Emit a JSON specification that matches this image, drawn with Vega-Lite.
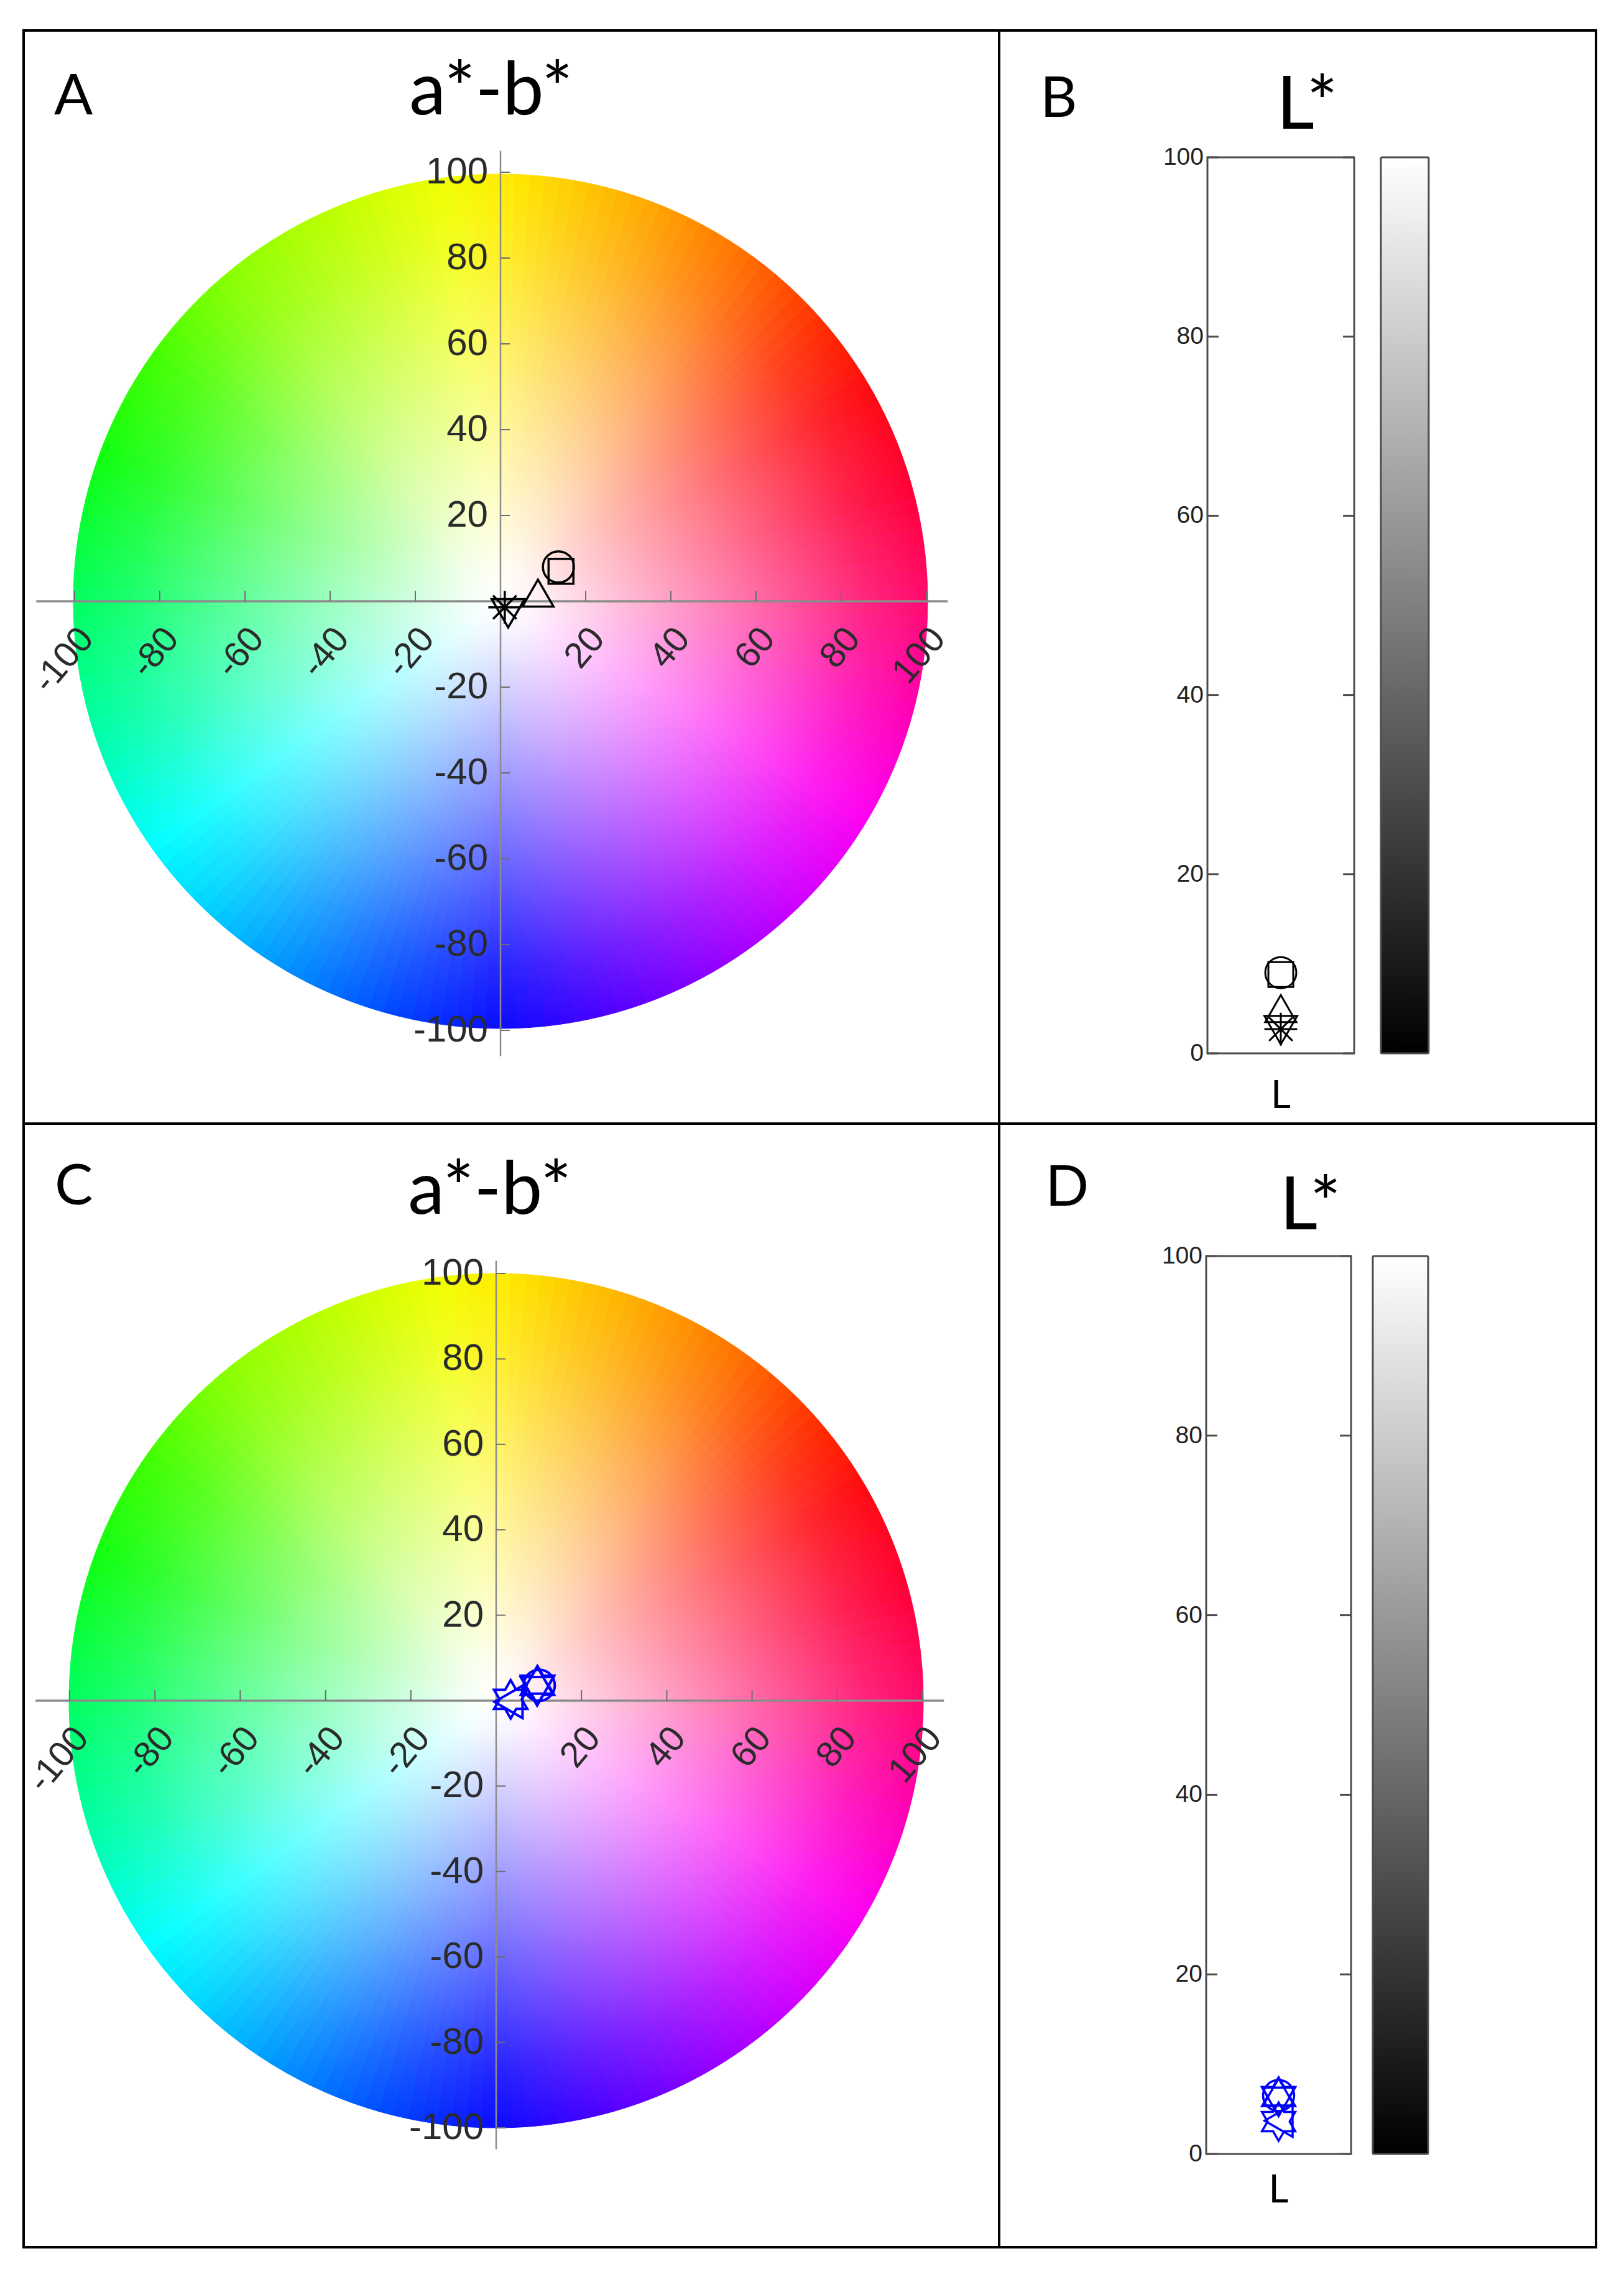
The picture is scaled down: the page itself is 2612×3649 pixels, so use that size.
{
  "$schema": "https://vega.github.io/schema/vega-lite/v6.json",
  "padding": {"left": 33, "top": 47, "right": 10, "bottom": 10},
  "background": "white",
  "config": {
    "view": {"stroke": "#000000", "strokeWidth": 4}
  },
  "datasets": {
    "one": [{"k": 1}],
    "ticks": [{"t": 0}, {"t": 20}, {"t": 40}, {"t": 60}, {"t": 80}, {"t": 100}],
    "abt": [{"v": -100}, {"v": -80}, {"v": -60}, {"v": -40}, {"v": -20}, {"v": 20}, {"v": 40}, {"v": 60}, {"v": 80}, {"v": 100}],
    "black": [
      {"m": "o", "a": 13.6, "b": 8.0, "L": 9.0},
      {"m": "s", "a": 14.2, "b": 7.0, "L": 8.8},
      {"m": "^", "a": 8.8, "b": 1.9, "L": 5.0},
      {"m": "v", "a": 1.8, "b": -2.8, "L": 2.6},
      {"m": "*", "a": 1.0, "b": -1.4, "L": 2.7}
    ],
    "blue": [
      {"m": "o", "a": 10.1, "b": 3.6, "L": 6.5},
      {"m": "h", "a": 9.7, "b": 3.6, "L": 6.4},
      {"m": "^", "a": 9.6, "b": 4.8, "L": 6.9},
      {"m": "v", "a": 9.6, "b": 2.2, "L": 5.8},
      {"m": "<", "a": 2.9, "b": -0.3, "L": 3.7},
      {"m": "h", "a": 3.4, "b": 0.3, "L": 3.6}
    ],
    "wheel": [
      {"deg": 1, "n": 1}, {"deg": 3, "n": 1}, {"deg": 5, "n": 1}, {"deg": 7, "n": 1}, {"deg": 9, "n": 1}, {"deg": 11, "n": 1}, {"deg": 13, "n": 1}, {"deg": 15, "n": 1}, {"deg": 17, "n": 1}, {"deg": 19, "n": 1},
      {"deg": 21, "n": 1}, {"deg": 23, "n": 1}, {"deg": 25, "n": 1}, {"deg": 27, "n": 1}, {"deg": 29, "n": 1}, {"deg": 31, "n": 1}, {"deg": 33, "n": 1}, {"deg": 35, "n": 1}, {"deg": 37, "n": 1}, {"deg": 39, "n": 1},
      {"deg": 41, "n": 1}, {"deg": 43, "n": 1}, {"deg": 45, "n": 1}, {"deg": 47, "n": 1}, {"deg": 49, "n": 1}, {"deg": 51, "n": 1}, {"deg": 53, "n": 1}, {"deg": 55, "n": 1}, {"deg": 57, "n": 1}, {"deg": 59, "n": 1},
      {"deg": 61, "n": 1}, {"deg": 63, "n": 1}, {"deg": 65, "n": 1}, {"deg": 67, "n": 1}, {"deg": 69, "n": 1}, {"deg": 71, "n": 1}, {"deg": 73, "n": 1}, {"deg": 75, "n": 1}, {"deg": 77, "n": 1}, {"deg": 79, "n": 1},
      {"deg": 81, "n": 1}, {"deg": 83, "n": 1}, {"deg": 85, "n": 1}, {"deg": 87, "n": 1}, {"deg": 89, "n": 1}, {"deg": 91, "n": 1}, {"deg": 93, "n": 1}, {"deg": 95, "n": 1}, {"deg": 97, "n": 1}, {"deg": 99, "n": 1},
      {"deg": 101, "n": 1}, {"deg": 103, "n": 1}, {"deg": 105, "n": 1}, {"deg": 107, "n": 1}, {"deg": 109, "n": 1}, {"deg": 111, "n": 1}, {"deg": 113, "n": 1}, {"deg": 115, "n": 1}, {"deg": 117, "n": 1}, {"deg": 119, "n": 1},
      {"deg": 121, "n": 1}, {"deg": 123, "n": 1}, {"deg": 125, "n": 1}, {"deg": 127, "n": 1}, {"deg": 129, "n": 1}, {"deg": 131, "n": 1}, {"deg": 133, "n": 1}, {"deg": 135, "n": 1}, {"deg": 137, "n": 1}, {"deg": 139, "n": 1},
      {"deg": 141, "n": 1}, {"deg": 143, "n": 1}, {"deg": 145, "n": 1}, {"deg": 147, "n": 1}, {"deg": 149, "n": 1}, {"deg": 151, "n": 1}, {"deg": 153, "n": 1}, {"deg": 155, "n": 1}, {"deg": 157, "n": 1}, {"deg": 159, "n": 1},
      {"deg": 161, "n": 1}, {"deg": 163, "n": 1}, {"deg": 165, "n": 1}, {"deg": 167, "n": 1}, {"deg": 169, "n": 1}, {"deg": 171, "n": 1}, {"deg": 173, "n": 1}, {"deg": 175, "n": 1}, {"deg": 177, "n": 1}, {"deg": 179, "n": 1},
      {"deg": 181, "n": 1}, {"deg": 183, "n": 1}, {"deg": 185, "n": 1}, {"deg": 187, "n": 1}, {"deg": 189, "n": 1}, {"deg": 191, "n": 1}, {"deg": 193, "n": 1}, {"deg": 195, "n": 1}, {"deg": 197, "n": 1}, {"deg": 199, "n": 1},
      {"deg": 201, "n": 1}, {"deg": 203, "n": 1}, {"deg": 205, "n": 1}, {"deg": 207, "n": 1}, {"deg": 209, "n": 1}, {"deg": 211, "n": 1}, {"deg": 213, "n": 1}, {"deg": 215, "n": 1}, {"deg": 217, "n": 1}, {"deg": 219, "n": 1},
      {"deg": 221, "n": 1}, {"deg": 223, "n": 1}, {"deg": 225, "n": 1}, {"deg": 227, "n": 1}, {"deg": 229, "n": 1}, {"deg": 231, "n": 1}, {"deg": 233, "n": 1}, {"deg": 235, "n": 1}, {"deg": 237, "n": 1}, {"deg": 239, "n": 1},
      {"deg": 241, "n": 1}, {"deg": 243, "n": 1}, {"deg": 245, "n": 1}, {"deg": 247, "n": 1}, {"deg": 249, "n": 1}, {"deg": 251, "n": 1}, {"deg": 253, "n": 1}, {"deg": 255, "n": 1}, {"deg": 257, "n": 1}, {"deg": 259, "n": 1},
      {"deg": 261, "n": 1}, {"deg": 263, "n": 1}, {"deg": 265, "n": 1}, {"deg": 267, "n": 1}, {"deg": 269, "n": 1}, {"deg": 271, "n": 1}, {"deg": 273, "n": 1}, {"deg": 275, "n": 1}, {"deg": 277, "n": 1}, {"deg": 279, "n": 1},
      {"deg": 281, "n": 1}, {"deg": 283, "n": 1}, {"deg": 285, "n": 1}, {"deg": 287, "n": 1}, {"deg": 289, "n": 1}, {"deg": 291, "n": 1}, {"deg": 293, "n": 1}, {"deg": 295, "n": 1}, {"deg": 297, "n": 1}, {"deg": 299, "n": 1},
      {"deg": 301, "n": 1}, {"deg": 303, "n": 1}, {"deg": 305, "n": 1}, {"deg": 307, "n": 1}, {"deg": 309, "n": 1}, {"deg": 311, "n": 1}, {"deg": 313, "n": 1}, {"deg": 315, "n": 1}, {"deg": 317, "n": 1}, {"deg": 319, "n": 1},
      {"deg": 321, "n": 1}, {"deg": 323, "n": 1}, {"deg": 325, "n": 1}, {"deg": 327, "n": 1}, {"deg": 329, "n": 1}, {"deg": 331, "n": 1}, {"deg": 333, "n": 1}, {"deg": 335, "n": 1}, {"deg": 337, "n": 1}, {"deg": 339, "n": 1},
      {"deg": 341, "n": 1}, {"deg": 343, "n": 1}, {"deg": 345, "n": 1}, {"deg": 347, "n": 1}, {"deg": 349, "n": 1}, {"deg": 351, "n": 1}, {"deg": 353, "n": 1}, {"deg": 355, "n": 1}, {"deg": 357, "n": 1}, {"deg": 359, "n": 1}
    ]
  },
  "columns": 2,
  "spacing": 0,
  "align": "each",
  "bounds": "flush",
  "concat": [
    {
      "width": 1569,
      "height": 1758,
      "layer": [
        {
          "data": {"name": "wheel"},
          "mark": {"type": "arc", "radius": 687, "strokeWidth": 1},
          "encoding": {
            "x": {"datum": 0, "type": "quantitative", "scale": {"domain": [-111.97, 117.08], "nice": false, "zero": false}, "axis": null},
            "y": {"datum": 0, "type": "quantitative", "scale": {"domain": [-121.74, 133.04], "nice": false, "zero": false}, "axis": null},
            "theta": {"field": "n", "type": "quantitative", "stack": true},
            "order": {"field": "deg", "type": "quantitative", "sort": "ascending"},
            "color": {"field": "deg", "type": "quantitative", "legend": null,
              "scale": {"type": "linear", "interpolate": "rgb",
                "domain": [0, 8, 20, 35, 50, 60, 75, 90, 105, 120, 135, 150, 165, 180, 195, 210, 225, 235, 250, 270, 290, 305, 320, 340, 352, 360],
                "range": ["#ffee00", "#ffd200", "#ffaa00", "#ff7000", "#ff2a00", "#ff0a10", "#ff0038", "#ff0a6e", "#ff00b4", "#ff00f0", "#d000ff", "#9000ff", "#5000ff", "#0a0aff", "#0048ff", "#0090ff", "#00d8ff", "#00ffff", "#00ffb0", "#00ff60", "#10ff10", "#40ff00", "#88ff00", "#c8ff00", "#f0ff00", "#ffee00"]}},
            "stroke": {"field": "deg", "type": "quantitative", "legend": null,
              "scale": {"type": "linear", "interpolate": "rgb",
                "domain": [0, 8, 20, 35, 50, 60, 75, 90, 105, 120, 135, 150, 165, 180, 195, 210, 225, 235, 250, 270, 290, 305, 320, 340, 352, 360],
                "range": ["#ffee00", "#ffd200", "#ffaa00", "#ff7000", "#ff2a00", "#ff0a10", "#ff0038", "#ff0a6e", "#ff00b4", "#ff00f0", "#d000ff", "#9000ff", "#5000ff", "#0a0aff", "#0048ff", "#0090ff", "#00d8ff", "#00ffff", "#00ffb0", "#00ff60", "#10ff10", "#40ff00", "#88ff00", "#c8ff00", "#f0ff00", "#ffee00"]}}
          }
        },
        {
          "data": {"name": "one"},
          "mark": {"type": "point", "shape": "circle", "filled": true, "opacity": 1, "size": 1887876, "strokeWidth": 0,
            "fill": {"gradient": "radial", "x1": 0.5, "y1": 0.5, "r1": 0, "x2": 0.5, "y2": 0.5, "r2": 0.5,
              "stops": [{"offset": 0, "color": "rgba(255,255,255,1)"}, {"offset": 0.08, "color": "rgba(255,255,255,0.95)"}, {"offset": 0.5, "color": "rgba(255,255,255,0.5)"}, {"offset": 0.85, "color": "rgba(255,255,255,0.12)"}, {"offset": 1, "color": "rgba(255,255,255,0)"}]}},
          "encoding": {
            "x": {"datum": 0, "type": "quantitative", "scale": {"domain": [-111.97, 117.08], "nice": false, "zero": false}, "axis": null},
            "y": {"datum": 0, "type": "quantitative", "scale": {"domain": [-121.74, 133.04], "nice": false, "zero": false}, "axis": null}
          }
        },
        {
          "data": {"name": "one"},
          "mark": {"type": "rule", "color": "#8c8c8c", "strokeWidth": 3.5},
          "encoding": {
            "x": {"datum": -109, "type": "quantitative", "scale": {"domain": [-111.97, 117.08], "nice": false, "zero": false}, "axis": null},
            "x2": {"datum": 105},
            "y": {"datum": 0, "type": "quantitative", "scale": {"domain": [-121.74, 133.04], "nice": false, "zero": false}, "axis": null}
          }
        },
        {
          "data": {"name": "one"},
          "mark": {"type": "rule", "color": "#8c8c8c", "strokeWidth": 2.5},
          "encoding": {
            "x": {"datum": 0, "type": "quantitative", "scale": {"domain": [-111.97, 117.08], "nice": false, "zero": false}, "axis": null},
            "y": {"datum": -106, "type": "quantitative", "scale": {"domain": [-121.74, 133.04], "nice": false, "zero": false}, "axis": null},
            "y2": {"datum": 105}
          }
        },
        {
          "data": {"name": "abt"},
          "mark": {"type": "rule", "color": "#6e6e6e", "strokeWidth": 2},
          "encoding": {
            "x": {"field": "v", "type": "quantitative", "scale": {"domain": [-111.97, 117.08], "nice": false, "zero": false}, "axis": null},
            "y": {"datum": 0, "type": "quantitative", "scale": {"domain": [-121.74, 133.04], "nice": false, "zero": false}, "axis": null},
            "y2": {"datum": 2.46}
          }
        },
        {
          "data": {"name": "abt"},
          "mark": {"type": "rule", "color": "#6e6e6e", "strokeWidth": 2},
          "encoding": {
            "x": {"datum": 0, "type": "quantitative", "scale": {"domain": [-111.97, 117.08], "nice": false, "zero": false}, "axis": null},
            "x2": {"datum": 2.2},
            "y": {"field": "v", "type": "quantitative", "scale": {"domain": [-121.74, 133.04], "nice": false, "zero": false}, "axis": null}
          }
        },
        {
          "data": {"name": "abt"},
          "mark": {"type": "text", "font": "Liberation Sans", "fontSize": 58, "color": "#2b2b2b", "angle": -50, "align": "right", "baseline": "middle", "dx": -26, "dy": 48},
          "encoding": {
            "x": {"field": "v", "type": "quantitative", "scale": {"domain": [-111.97, 117.08], "nice": false, "zero": false}, "axis": null},
            "y": {"datum": 0, "type": "quantitative", "scale": {"domain": [-121.74, 133.04], "nice": false, "zero": false}, "axis": null},
            "text": {"field": "v", "type": "nominal"}
          }
        },
        {
          "data": {"name": "abt"},
          "mark": {"type": "text", "font": "Liberation Sans", "fontSize": 60, "color": "#2b2b2b", "align": "right", "baseline": "middle", "dx": -20},
          "encoding": {
            "x": {"datum": 0, "type": "quantitative", "scale": {"domain": [-111.97, 117.08], "nice": false, "zero": false}, "axis": null},
            "y": {"field": "v", "type": "quantitative", "scale": {"domain": [-121.74, 133.04], "nice": false, "zero": false}, "axis": null},
            "text": {"field": "v", "type": "nominal"}
          }
        },
        {
          "data": {"name": "black"},
          "mark": {"type": "point", "filled": false, "opacity": 1, "color": "#000000", "strokeWidth": 3.5},
          "encoding": {
            "x": {"field": "a", "type": "quantitative", "scale": {"domain": [-111.97, 117.08], "nice": false, "zero": false}, "axis": null},
            "y": {"field": "b", "type": "quantitative", "scale": {"domain": [-121.74, 133.04], "nice": false, "zero": false}, "axis": null},
            "shape": {"field": "m", "type": "nominal", "legend": null,
              "scale": {"domain": ["o", "s", "^", "v", "*", "<", "h"], "range": ["circle", "square", "triangle-up", "triangle-down", "M-1,0L1,0M0,-1L0,1M-0.71,-0.71L0.71,0.71M-0.71,0.71L0.71,-0.71", "triangle-left", "M0,-1L0.289,-0.5L0.866,-0.5L0.577,0L0.866,0.5L0.289,0.5L0,1L-0.289,0.5L-0.866,0.5L-0.577,0L-0.866,-0.5L-0.289,-0.5Z"]}},
            "size": {"field": "m", "type": "nominal", "legend": null,
              "scale": {"type": "ordinal", "domain": ["o", "s", "^", "v", "*", "<", "h"], "range": [2500, 1600, 2500, 2800, 2800, 2700, 3800]}}
          }
        },
        {
          "data": {"name": "one"},
          "mark": {"type": "text", "text": "A", "font": "Lato", "fontSize": 92, "align": "left", "baseline": "alphabetic", "color": "#000000"},
          "encoding": {
            "x": {"datum": -104.8, "type": "quantitative", "scale": {"domain": [-111.97, 117.08], "nice": false, "zero": false}, "axis": null},
            "y": {"datum": 113.5, "type": "quantitative", "scale": {"domain": [-121.74, 133.04], "nice": false, "zero": false}, "axis": null}
          }
        },
        {
          "data": {"name": "one"},
          "mark": {"type": "text", "text": "a*-b*", "font": "Lato", "fontSize": 118, "align": "center", "baseline": "alphabetic", "color": "#000000"},
          "encoding": {
            "x": {"datum": -2.2, "type": "quantitative", "scale": {"domain": [-111.97, 117.08], "nice": false, "zero": false}, "axis": null},
            "y": {"datum": 113.5, "type": "quantitative", "scale": {"domain": [-121.74, 133.04], "nice": false, "zero": false}, "axis": null}
          }
        }
      ]
    },
    {
      "width": 960,
      "height": 1758,
      "layer": [
        {
          "data": {"name": "one"},
          "mark": {"type": "rect", "fill": "#ffffff", "stroke": "#4d4d4d", "strokeWidth": 3},
          "encoding": {
            "x": {"datum": 0, "type": "quantitative", "scale": {"domain": [-1.4195, 2.6483], "nice": false, "zero": false}, "axis": null},
            "x2": {"datum": 1},
            "y": {"datum": 0, "type": "quantitative", "scale": {"domain": [-7.84, 114.16], "nice": false, "zero": false}, "axis": null},
            "y2": {"datum": 100}
          }
        },
        {
          "data": {"name": "one"},
          "mark": {"type": "rect", "stroke": "#4d4d4d", "strokeWidth": 3, "cornerRadius": 2,
            "fill": {"gradient": "linear", "x1": 0, "y1": 1, "x2": 0, "y2": 0, "stops": [{"offset": 0, "color": "#000000"}, {"offset": 1, "color": "#ffffff"}]}},
          "encoding": {
            "x": {"datum": 1.182, "type": "quantitative", "scale": {"domain": [-1.4195, 2.6483], "nice": false, "zero": false}, "axis": null},
            "x2": {"datum": 1.508},
            "y": {"datum": 0, "type": "quantitative", "scale": {"domain": [-7.84, 114.16], "nice": false, "zero": false}, "axis": null},
            "y2": {"datum": 100}
          }
        },
        {
          "data": {"name": "ticks"},
          "mark": {"type": "rule", "color": "#4d4d4d", "strokeWidth": 3},
          "encoding": {
            "x": {"datum": 0.924, "type": "quantitative", "scale": {"domain": [-1.4195, 2.6483], "nice": false, "zero": false}, "axis": null},
            "x2": {"datum": 1},
            "y": {"field": "t", "type": "quantitative", "scale": {"domain": [-7.84, 114.16], "nice": false, "zero": false}, "axis": null}
          }
        },
        {
          "data": {"name": "ticks"},
          "mark": {"type": "rule", "color": "#4d4d4d", "strokeWidth": 3},
          "encoding": {
            "x": {"datum": 0, "type": "quantitative", "scale": {"domain": [-1.4195, 2.6483], "nice": false, "zero": false}, "axis": null},
            "x2": {"datum": 0.076},
            "y": {"field": "t", "type": "quantitative", "scale": {"domain": [-7.84, 114.16], "nice": false, "zero": false}, "axis": null}
          }
        },
        {
          "data": {"name": "ticks"},
          "mark": {"type": "text", "font": "Liberation Sans", "fontSize": 39, "color": "#222222", "align": "right", "baseline": "middle", "dx": -6},
          "encoding": {
            "x": {"datum": 0, "type": "quantitative", "scale": {"domain": [-1.4195, 2.6483], "nice": false, "zero": false}, "axis": null},
            "y": {"field": "t", "type": "quantitative", "scale": {"domain": [-7.84, 114.16], "nice": false, "zero": false}, "axis": null},
            "text": {"field": "t", "type": "nominal"}
          }
        },
        {
          "data": {"name": "black"},
          "mark": {"type": "point", "filled": false, "opacity": 1, "color": "#000000", "strokeWidth": 3},
          "encoding": {
            "x": {"datum": 0.5, "type": "quantitative", "scale": {"domain": [-1.4195, 2.6483], "nice": false, "zero": false}, "axis": null},
            "y": {"field": "L", "type": "quantitative", "scale": {"domain": [-7.84, 114.16], "nice": false, "zero": false}, "axis": null},
            "shape": {"field": "m", "type": "nominal", "legend": null,
              "scale": {"domain": ["o", "s", "^", "v", "*", "<", "h"], "range": ["circle", "square", "triangle-up", "triangle-down", "M-1,0L1,0M0,-1L0,1M-0.71,-0.71L0.71,0.71M-0.71,0.71L0.71,-0.71", "triangle-left", "M0,-1L0.289,-0.5L0.866,-0.5L0.577,0L0.866,0.5L0.289,0.5L0,1L-0.289,0.5L-0.866,0.5L-0.577,0L-0.866,-0.5L-0.289,-0.5Z"]}},
            "size": {"field": "m", "type": "nominal", "legend": null,
              "scale": {"type": "ordinal", "domain": ["o", "s", "^", "v", "*", "<", "h"], "range": [1300, 900, 1700, 1700, 1500, 1800, 2700]}}
          }
        },
        {
          "data": {"name": "one"},
          "mark": {"type": "text", "text": "B", "font": "Lato", "fontSize": 92, "align": "left", "baseline": "alphabetic", "color": "#000000"},
          "encoding": {
            "x": {"datum": -1.14, "type": "quantitative", "scale": {"domain": [-1.4195, 2.6483], "nice": false, "zero": false}, "axis": null},
            "y": {"datum": 104.5, "type": "quantitative", "scale": {"domain": [-7.84, 114.16], "nice": false, "zero": false}, "axis": null}
          }
        },
        {
          "data": {"name": "one"},
          "mark": {"type": "text", "text": "L*", "font": "Lato", "fontSize": 118, "align": "center", "baseline": "alphabetic", "color": "#000000"},
          "encoding": {
            "x": {"datum": 0.68, "type": "quantitative", "scale": {"domain": [-1.4195, 2.6483], "nice": false, "zero": false}, "axis": null},
            "y": {"datum": 103.2, "type": "quantitative", "scale": {"domain": [-7.84, 114.16], "nice": false, "zero": false}, "axis": null}
          }
        },
        {
          "data": {"name": "one"},
          "mark": {"type": "text", "text": "L", "font": "Lato", "fontSize": 62, "align": "center", "baseline": "alphabetic", "color": "#000000"},
          "encoding": {
            "x": {"datum": 0.5, "type": "quantitative", "scale": {"domain": [-1.4195, 2.6483], "nice": false, "zero": false}, "axis": null},
            "y": {"datum": -6.1, "type": "quantitative", "scale": {"domain": [-7.84, 114.16], "nice": false, "zero": false}, "axis": null}
          }
        }
      ]
    },
    {
      "width": 1569,
      "height": 1807,
      "layer": [
        {
          "data": {"name": "wheel"},
          "mark": {"type": "arc", "radius": 687, "strokeWidth": 1},
          "encoding": {
            "x": {"datum": 0, "type": "quantitative", "scale": {"domain": [-110.79, 117.93], "nice": false, "zero": false}, "axis": null},
            "y": {"datum": 0, "type": "quantitative", "scale": {"domain": [-127.95, 135.08], "nice": false, "zero": false}, "axis": null},
            "theta": {"field": "n", "type": "quantitative", "stack": true},
            "order": {"field": "deg", "type": "quantitative", "sort": "ascending"},
            "color": {"field": "deg", "type": "quantitative", "legend": null,
              "scale": {"type": "linear", "interpolate": "rgb",
                "domain": [0, 8, 20, 35, 50, 60, 75, 90, 105, 120, 135, 150, 165, 180, 195, 210, 225, 235, 250, 270, 290, 305, 320, 340, 352, 360],
                "range": ["#ffee00", "#ffd200", "#ffaa00", "#ff7000", "#ff2a00", "#ff0a10", "#ff0038", "#ff0a6e", "#ff00b4", "#ff00f0", "#d000ff", "#9000ff", "#5000ff", "#0a0aff", "#0048ff", "#0090ff", "#00d8ff", "#00ffff", "#00ffb0", "#00ff60", "#10ff10", "#40ff00", "#88ff00", "#c8ff00", "#f0ff00", "#ffee00"]}},
            "stroke": {"field": "deg", "type": "quantitative", "legend": null,
              "scale": {"type": "linear", "interpolate": "rgb",
                "domain": [0, 8, 20, 35, 50, 60, 75, 90, 105, 120, 135, 150, 165, 180, 195, 210, 225, 235, 250, 270, 290, 305, 320, 340, 352, 360],
                "range": ["#ffee00", "#ffd200", "#ffaa00", "#ff7000", "#ff2a00", "#ff0a10", "#ff0038", "#ff0a6e", "#ff00b4", "#ff00f0", "#d000ff", "#9000ff", "#5000ff", "#0a0aff", "#0048ff", "#0090ff", "#00d8ff", "#00ffff", "#00ffb0", "#00ff60", "#10ff10", "#40ff00", "#88ff00", "#c8ff00", "#f0ff00", "#ffee00"]}}
          }
        },
        {
          "data": {"name": "one"},
          "mark": {"type": "point", "shape": "circle", "filled": true, "opacity": 1, "size": 1887876, "strokeWidth": 0,
            "fill": {"gradient": "radial", "x1": 0.5, "y1": 0.5, "r1": 0, "x2": 0.5, "y2": 0.5, "r2": 0.5,
              "stops": [{"offset": 0, "color": "rgba(255,255,255,1)"}, {"offset": 0.08, "color": "rgba(255,255,255,0.95)"}, {"offset": 0.5, "color": "rgba(255,255,255,0.5)"}, {"offset": 0.85, "color": "rgba(255,255,255,0.12)"}, {"offset": 1, "color": "rgba(255,255,255,0)"}]}},
          "encoding": {
            "x": {"datum": 0, "type": "quantitative", "scale": {"domain": [-110.79, 117.93], "nice": false, "zero": false}, "axis": null},
            "y": {"datum": 0, "type": "quantitative", "scale": {"domain": [-127.95, 135.08], "nice": false, "zero": false}, "axis": null}
          }
        },
        {
          "data": {"name": "one"},
          "mark": {"type": "rule", "color": "#8c8c8c", "strokeWidth": 3.5},
          "encoding": {
            "x": {"datum": -108, "type": "quantitative", "scale": {"domain": [-110.79, 117.93], "nice": false, "zero": false}, "axis": null},
            "x2": {"datum": 105},
            "y": {"datum": 0, "type": "quantitative", "scale": {"domain": [-127.95, 135.08], "nice": false, "zero": false}, "axis": null}
          }
        },
        {
          "data": {"name": "one"},
          "mark": {"type": "rule", "color": "#8c8c8c", "strokeWidth": 2.5},
          "encoding": {
            "x": {"datum": 0, "type": "quantitative", "scale": {"domain": [-110.79, 117.93], "nice": false, "zero": false}, "axis": null},
            "y": {"datum": -105, "type": "quantitative", "scale": {"domain": [-127.95, 135.08], "nice": false, "zero": false}, "axis": null},
            "y2": {"datum": 103}
          }
        },
        {
          "data": {"name": "abt"},
          "mark": {"type": "rule", "color": "#6e6e6e", "strokeWidth": 2},
          "encoding": {
            "x": {"field": "v", "type": "quantitative", "scale": {"domain": [-110.79, 117.93], "nice": false, "zero": false}, "axis": null},
            "y": {"datum": 0, "type": "quantitative", "scale": {"domain": [-127.95, 135.08], "nice": false, "zero": false}, "axis": null},
            "y2": {"datum": 2.47}
          }
        },
        {
          "data": {"name": "abt"},
          "mark": {"type": "rule", "color": "#6e6e6e", "strokeWidth": 2},
          "encoding": {
            "x": {"datum": 0, "type": "quantitative", "scale": {"domain": [-110.79, 117.93], "nice": false, "zero": false}, "axis": null},
            "x2": {"datum": 2.2},
            "y": {"field": "v", "type": "quantitative", "scale": {"domain": [-127.95, 135.08], "nice": false, "zero": false}, "axis": null}
          }
        },
        {
          "data": {"name": "abt"},
          "mark": {"type": "text", "font": "Liberation Sans", "fontSize": 58, "color": "#2b2b2b", "angle": -50, "align": "right", "baseline": "middle", "dx": -26, "dy": 48},
          "encoding": {
            "x": {"field": "v", "type": "quantitative", "scale": {"domain": [-110.79, 117.93], "nice": false, "zero": false}, "axis": null},
            "y": {"datum": 0, "type": "quantitative", "scale": {"domain": [-127.95, 135.08], "nice": false, "zero": false}, "axis": null},
            "text": {"field": "v", "type": "nominal"}
          }
        },
        {
          "data": {"name": "abt"},
          "mark": {"type": "text", "font": "Liberation Sans", "fontSize": 60, "color": "#2b2b2b", "align": "right", "baseline": "middle", "dx": -20},
          "encoding": {
            "x": {"datum": 0, "type": "quantitative", "scale": {"domain": [-110.79, 117.93], "nice": false, "zero": false}, "axis": null},
            "y": {"field": "v", "type": "quantitative", "scale": {"domain": [-127.95, 135.08], "nice": false, "zero": false}, "axis": null},
            "text": {"field": "v", "type": "nominal"}
          }
        },
        {
          "data": {"name": "blue"},
          "mark": {"type": "point", "filled": false, "opacity": 1, "color": "#0000ff", "strokeWidth": 4},
          "encoding": {
            "x": {"field": "a", "type": "quantitative", "scale": {"domain": [-110.79, 117.93], "nice": false, "zero": false}, "axis": null},
            "y": {"field": "b", "type": "quantitative", "scale": {"domain": [-127.95, 135.08], "nice": false, "zero": false}, "axis": null},
            "shape": {"field": "m", "type": "nominal", "legend": null,
              "scale": {"domain": ["o", "s", "^", "v", "*", "<", "h"], "range": ["circle", "square", "triangle-up", "triangle-down", "M-1,0L1,0M0,-1L0,1M-0.71,-0.71L0.71,0.71M-0.71,0.71L0.71,-0.71", "triangle-left", "M0,-1L0.289,-0.5L0.866,-0.5L0.577,0L0.866,0.5L0.289,0.5L0,1L-0.289,0.5L-0.866,0.5L-0.577,0L-0.866,-0.5L-0.289,-0.5Z"]}},
            "size": {"field": "m", "type": "nominal", "legend": null,
              "scale": {"type": "ordinal", "domain": ["o", "s", "^", "v", "*", "<", "h"], "range": [2500, 1600, 2700, 2700, 2500, 2700, 3800]}}
          }
        },
        {
          "data": {"name": "one"},
          "mark": {"type": "text", "text": "C", "font": "Lato", "fontSize": 92, "align": "left", "baseline": "alphabetic", "color": "#000000"},
          "encoding": {
            "x": {"datum": -103.5, "type": "quantitative", "scale": {"domain": [-110.79, 117.93], "nice": false, "zero": false}, "axis": null},
            "y": {"datum": 116.2, "type": "quantitative", "scale": {"domain": [-127.95, 135.08], "nice": false, "zero": false}, "axis": null}
          }
        },
        {
          "data": {"name": "one"},
          "mark": {"type": "text", "text": "a*-b*", "font": "Lato", "fontSize": 118, "align": "center", "baseline": "alphabetic", "color": "#000000"},
          "encoding": {
            "x": {"datum": -1.5, "type": "quantitative", "scale": {"domain": [-110.79, 117.93], "nice": false, "zero": false}, "axis": null},
            "y": {"datum": 114.0, "type": "quantitative", "scale": {"domain": [-127.95, 135.08], "nice": false, "zero": false}, "axis": null}
          }
        }
      ]
    },
    {
      "width": 960,
      "height": 1807,
      "layer": [
        {
          "data": {"name": "one"},
          "mark": {"type": "rect", "fill": "#ffffff", "stroke": "#4d4d4d", "strokeWidth": 3},
          "encoding": {
            "x": {"datum": 0, "type": "quantitative", "scale": {"domain": [-1.429, 2.691], "nice": false, "zero": false}, "axis": null},
            "x2": {"datum": 1},
            "y": {"datum": 0, "type": "quantitative", "scale": {"domain": [-10.39, 114.75], "nice": false, "zero": false}, "axis": null},
            "y2": {"datum": 100}
          }
        },
        {
          "data": {"name": "one"},
          "mark": {"type": "rect", "stroke": "#4d4d4d", "strokeWidth": 3, "cornerRadius": 2,
            "fill": {"gradient": "linear", "x1": 0, "y1": 1, "x2": 0, "y2": 0, "stops": [{"offset": 0, "color": "#000000"}, {"offset": 1, "color": "#ffffff"}]}},
          "encoding": {
            "x": {"datum": 1.15, "type": "quantitative", "scale": {"domain": [-1.429, 2.691], "nice": false, "zero": false}, "axis": null},
            "x2": {"datum": 1.532},
            "y": {"datum": 0, "type": "quantitative", "scale": {"domain": [-10.39, 114.75], "nice": false, "zero": false}, "axis": null},
            "y2": {"datum": 100}
          }
        },
        {
          "data": {"name": "ticks"},
          "mark": {"type": "rule", "color": "#4d4d4d", "strokeWidth": 3},
          "encoding": {
            "x": {"datum": 0.923, "type": "quantitative", "scale": {"domain": [-1.429, 2.691], "nice": false, "zero": false}, "axis": null},
            "x2": {"datum": 1},
            "y": {"field": "t", "type": "quantitative", "scale": {"domain": [-10.39, 114.75], "nice": false, "zero": false}, "axis": null}
          }
        },
        {
          "data": {"name": "ticks"},
          "mark": {"type": "rule", "color": "#4d4d4d", "strokeWidth": 3},
          "encoding": {
            "x": {"datum": 0, "type": "quantitative", "scale": {"domain": [-1.429, 2.691], "nice": false, "zero": false}, "axis": null},
            "x2": {"datum": 0.077},
            "y": {"field": "t", "type": "quantitative", "scale": {"domain": [-10.39, 114.75], "nice": false, "zero": false}, "axis": null}
          }
        },
        {
          "data": {"name": "ticks"},
          "mark": {"type": "text", "font": "Liberation Sans", "fontSize": 39, "color": "#222222", "align": "right", "baseline": "middle", "dx": -6},
          "encoding": {
            "x": {"datum": 0, "type": "quantitative", "scale": {"domain": [-1.429, 2.691], "nice": false, "zero": false}, "axis": null},
            "y": {"field": "t", "type": "quantitative", "scale": {"domain": [-10.39, 114.75], "nice": false, "zero": false}, "axis": null},
            "text": {"field": "t", "type": "nominal"}
          }
        },
        {
          "data": {"name": "blue"},
          "mark": {"type": "point", "filled": false, "opacity": 1, "color": "#0000ff", "strokeWidth": 3.5},
          "encoding": {
            "x": {"datum": 0.5, "type": "quantitative", "scale": {"domain": [-1.429, 2.691], "nice": false, "zero": false}, "axis": null},
            "y": {"field": "L", "type": "quantitative", "scale": {"domain": [-10.39, 114.75], "nice": false, "zero": false}, "axis": null},
            "shape": {"field": "m", "type": "nominal", "legend": null,
              "scale": {"domain": ["o", "s", "^", "v", "*", "<", "h"], "range": ["circle", "square", "triangle-up", "triangle-down", "M-1,0L1,0M0,-1L0,1M-0.71,-0.71L0.71,0.71M-0.71,0.71L0.71,-0.71", "triangle-left", "M0,-1L0.289,-0.5L0.866,-0.5L0.577,0L0.866,0.5L0.289,0.5L0,1L-0.289,0.5L-0.866,0.5L-0.577,0L-0.866,-0.5L-0.289,-0.5Z"]}},
            "size": {"field": "m", "type": "nominal", "legend": null,
              "scale": {"type": "ordinal", "domain": ["o", "s", "^", "v", "*", "<", "h"], "range": [1500, 900, 1800, 1800, 1600, 1800, 2700]}}
          }
        },
        {
          "data": {"name": "one"},
          "mark": {"type": "text", "text": "D", "font": "Lato", "fontSize": 92, "align": "left", "baseline": "alphabetic", "color": "#000000"},
          "encoding": {
            "x": {"datum": -1.11, "type": "quantitative", "scale": {"domain": [-1.429, 2.691], "nice": false, "zero": false}, "axis": null},
            "y": {"datum": 105.6, "type": "quantitative", "scale": {"domain": [-10.39, 114.75], "nice": false, "zero": false}, "axis": null}
          }
        },
        {
          "data": {"name": "one"},
          "mark": {"type": "text", "text": "L*", "font": "Lato", "fontSize": 118, "align": "center", "baseline": "alphabetic", "color": "#000000"},
          "encoding": {
            "x": {"datum": 0.72, "type": "quantitative", "scale": {"domain": [-1.429, 2.691], "nice": false, "zero": false}, "axis": null},
            "y": {"datum": 103.0, "type": "quantitative", "scale": {"domain": [-10.39, 114.75], "nice": false, "zero": false}, "axis": null}
          }
        },
        {
          "data": {"name": "one"},
          "mark": {"type": "text", "text": "L", "font": "Lato", "fontSize": 62, "align": "center", "baseline": "alphabetic", "color": "#000000"},
          "encoding": {
            "x": {"datum": 0.5, "type": "quantitative", "scale": {"domain": [-1.429, 2.691], "nice": false, "zero": false}, "axis": null},
            "y": {"datum": -5.4, "type": "quantitative", "scale": {"domain": [-10.39, 114.75], "nice": false, "zero": false}, "axis": null}
          }
        }
      ]
    }
  ]
}
